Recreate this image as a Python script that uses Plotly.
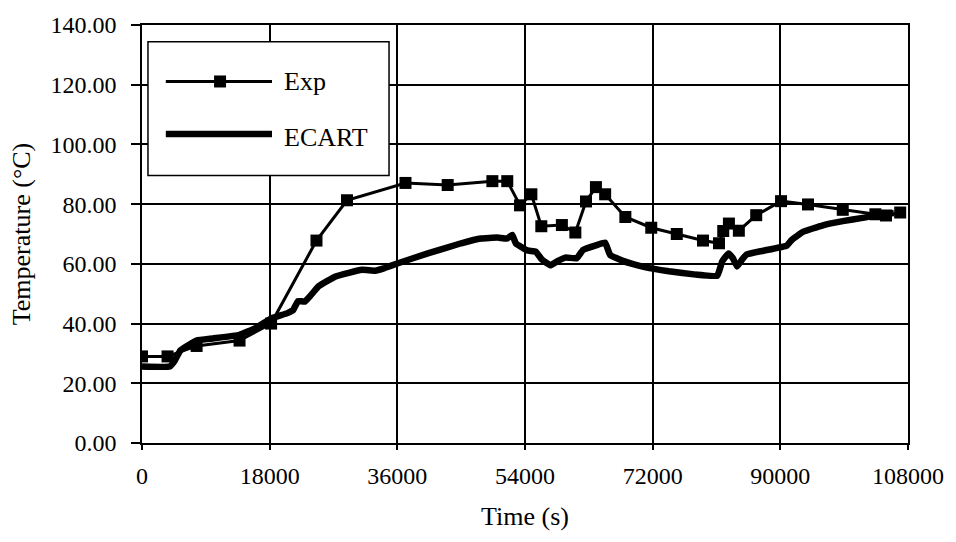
import plotly.graph_objects as go

# Measured temperatures (Exp) and ECART simulation, time in seconds
exp_time = [0, 3600, 7700, 13750, 18200, 24600, 28900, 37150, 43100, 49400, 51500,
            53300, 54900, 56300, 59200, 61100, 62600, 64000, 65300, 68150, 71800,
            75400, 79100, 81350, 81950, 82750, 84150, 86600, 90100, 93900, 98800,
            103400, 104900, 106900]
exp_temp = [29.0, 29.0, 32.5, 34.3, 40.0, 67.8, 81.3, 87.1, 86.4, 87.7, 87.7,
            79.6, 83.3, 72.6, 73.0, 70.5, 80.9, 85.7, 83.3, 75.7, 72.1,
            70.0, 67.8, 66.9, 71.0, 73.5, 71.1, 76.3, 81.0, 79.9, 78.1,
            76.6, 76.2, 77.2]

ecart_time = [0, 3900, 4600, 5400, 7700, 10000, 13750, 16000, 18300, 20500, 21300,
              22000, 23000, 24900, 27300, 31000, 32900, 34200, 36100, 40300, 45000,
              47800, 50100, 51500, 52200, 52700, 54300, 55500, 56400, 57600, 58500,
              59700, 61300, 62200, 64100, 65300, 66000, 67800, 70600, 74300, 78100,
              81100, 81800, 82700, 83300, 83900, 84600, 85300, 87600, 90900, 91600,
              93200, 96000, 98800, 101600, 103500, 106000]
ecart_temp = [25.6, 25.6, 27.5, 31.0, 34.3, 35.0, 36.2, 38.5, 41.8, 43.5, 44.5,
              47.5, 47.4, 52.5, 55.8, 58.0, 57.7, 58.6, 60.2, 63.5, 66.9,
              68.5, 68.8, 68.5, 69.7, 66.9, 64.5, 64.1, 61.4, 59.5, 60.8,
              62.1, 61.9, 64.7, 66.3, 67.1, 63.0, 61.0, 59.1, 57.5, 56.4,
              56.0, 60.8, 63.5, 61.9, 59.1, 61.4, 63.2, 64.4, 66.1, 68.0,
              70.7, 72.9, 74.3, 75.4, 76.3, 77.0]

x_ticks = [0, 18000, 36000, 54000, 72000, 90000, 108000]
y_ticks = [0, 20, 40, 60, 80, 100, 120, 140]

FONT = "Liberation Serif, Times New Roman, serif"

fig = go.Figure()
fig.add_trace(go.Scatter(
    x=ecart_time, y=ecart_temp, mode="lines", name="ECART",
    line=dict(color="black", width=6.5, shape="spline", smoothing=0.3),
))
fig.add_trace(go.Scatter(
    x=exp_time, y=exp_temp, mode="lines+markers", name="Exp",
    line=dict(color="black", width=3),
    marker=dict(symbol="square", size=12, color="black"),
))

# Hand-drawn legend box with long line samples
shapes = [
    dict(type="rect", xref="paper", yref="paper", x0=0.0078, x1=0.3225,
         y0=0.6398, y1=0.9597, line=dict(color="black", width=1.5),
         fillcolor="white", layer="above"),
    dict(type="line", xref="paper", yref="paper", x0=0.0311, x1=0.1697,
         y0=0.8649, y1=0.8649, line=dict(color="black", width=3), layer="above"),
    dict(type="rect", xref="paper", yref="paper", xsizemode="pixel", ysizemode="pixel",
         xanchor=0.1019, yanchor=0.8649, x0=-6, x1=6, y0=-6, y1=6,
         fillcolor="black", line=dict(width=0), layer="above"),
    dict(type="line", xref="paper", yref="paper", x0=0.0311, x1=0.1697,
         y0=0.7393, y1=0.7393, line=dict(color="black", width=6.5), layer="above"),
]
annotations = [
    dict(text="Exp", xref="paper", yref="paper", x=0.1826, y=0.8649,
         xanchor="left", yanchor="middle", showarrow=False,
         font=dict(family=FONT, size=26, color="black")),
    dict(text="ECART", xref="paper", yref="paper", x=0.1826, y=0.7300,
         xanchor="left", yanchor="middle", showarrow=False,
         font=dict(family=FONT, size=26, color="black")),
]

fig.update_layout(
    width=956, height=542,
    margin=dict(l=142, r=42, t=21, b=99),
    paper_bgcolor="white", plot_bgcolor="white",
    showlegend=False,
    font=dict(family=FONT, size=24, color="black"),
    shapes=shapes, annotations=annotations,
)
fig.update_xaxes(
    range=[0, 108000], tickvals=x_ticks, ticktext=[str(v) for v in x_ticks],
    showgrid=True, gridcolor="black", gridwidth=1.5,
    showline=True, linecolor="black", linewidth=1.5, mirror=True,
    ticks="outside", ticklen=5, tickcolor="black", tickwidth=1.5,
    ticklabelstandoff=5, zeroline=False,
    title=dict(text="Time (s)", font=dict(family=FONT, size=26), standoff=19),
)
fig.update_yaxes(
    range=[0, 140], tickvals=y_ticks, ticktext=[f"{v:.2f}" for v in y_ticks],
    showgrid=True, gridcolor="black", gridwidth=1.5,
    showline=True, linecolor="black", linewidth=1.5, mirror=True,
    ticks="outside", ticklen=9, tickcolor="black", tickwidth=1.5,
    ticklabelstandoff=10, zeroline=False,
    title=dict(text="Temperature (°C)", font=dict(family=FONT, size=26), standoff=12),
)

fig.write_html("out.html")
